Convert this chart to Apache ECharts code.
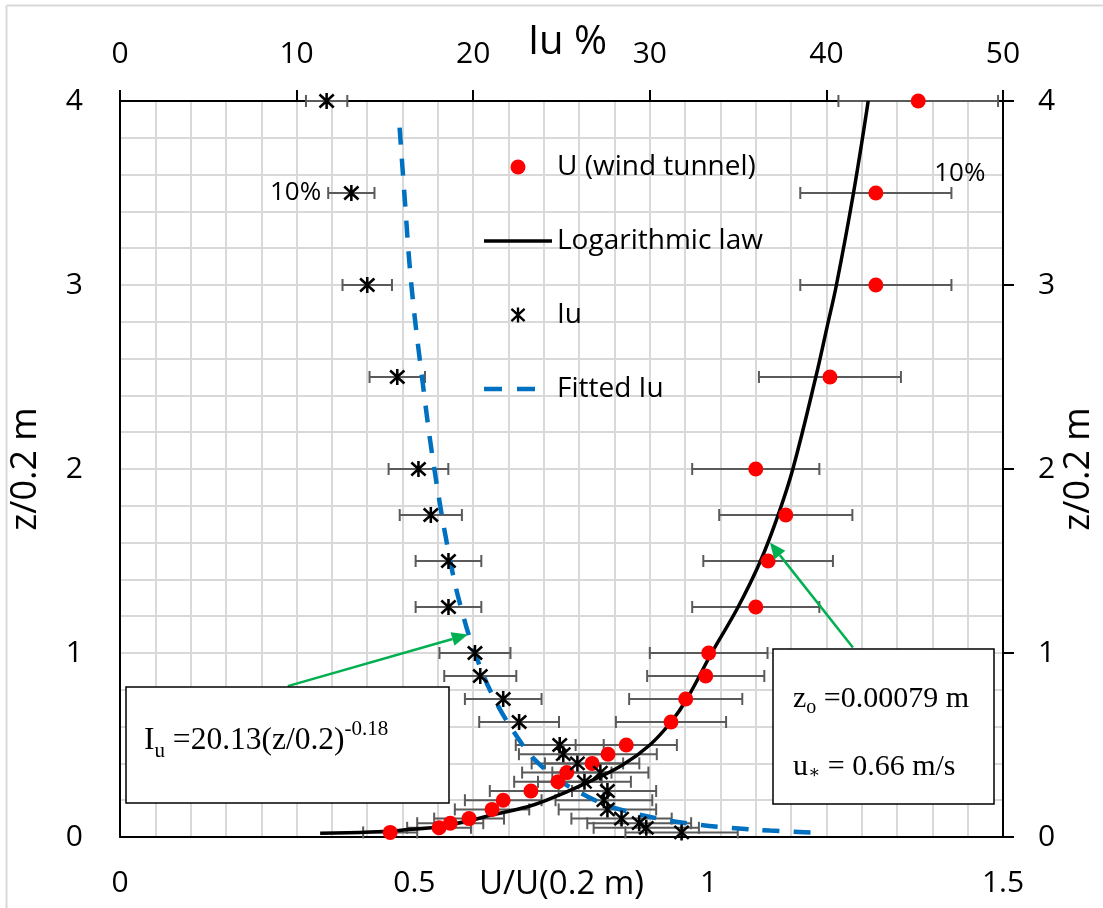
<!DOCTYPE html>
<html>
<head>
<meta charset="utf-8">
<title>Wind profile and turbulence intensity</title>
<script src="https://cdn.jsdelivr.net/npm/echarts@6/dist/echarts.min.js"></script>
<style>
  html, body { margin: 0; padding: 0; background: #fff; }
  #chart { width: 1103px; height: 908px; }
</style>
</head>
<body>
<div id="chart"></div>
<script>
// Measurement heights, z/0.2 m
const HEIGHTS = [0.025, 0.05, 0.075, 0.1, 0.15, 0.2, 0.25, 0.3, 0.35, 0.4, 0.45, 0.5,
                 0.625, 0.75, 0.875, 1, 1.25, 1.5, 1.75, 2, 2.5, 3, 3.5, 4];
// Mean wind speed ratio U/U(0.2 m) measured in the wind tunnel
const U_TUNNEL = [0.459, 0.542, 0.561, 0.593, 0.632, 0.651, 0.698, 0.744, 0.759, 0.802, 0.829, 0.860,
                  0.936, 0.961, 0.995, 1.000, 1.080, 1.101, 1.131, 1.080, 1.206, 1.284, 1.284, 1.356];
// Turbulence intensity Iu (%)
const IU = [31.8, 29.8, 29.4, 28.4, 27.6, 27.4, 27.6, 26.3, 27.2, 25.9, 25.1, 24.9,
            22.6, 21.7, 20.4, 20.1, 18.6, 18.6, 17.6, 16.9, 15.7, 14.0, 13.1, 11.7];
// Error bar size (percent of value)
const ERROR_PCT = 10;

// Logarithmic law profile
const LOG_Z = [0.02, 0.027, 0.038, 0.054, 0.09, 0.12, 0.163, 0.2, 0.29, 0.39, 0.5, 0.625,
               0.75, 1.0, 1.25, 1.5, 1.75, 2.0, 2.5, 2.77, 3.0, 3.5, 4.0];
const LOG_U = [0.340, 0.425, 0.481, 0.538, 0.595, 0.632, 0.691, 0.725, 0.790, 0.853, 0.900, 0.936,
               0.963, 1.005, 1.050, 1.088, 1.118, 1.143, 1.182, 1.201, 1.217, 1.246, 1.271];

// Fitted turbulence intensity profile
const FIT_Z = [0.025, 0.035, 0.05, 0.07, 0.1, 0.15, 0.2, 0.3, 0.4, 0.5, 0.75, 1, 1.25, 1.5, 2, 2.5, 3, 3.5, 3.9];
const FIT_IU = [39.1, 36.8, 34.5, 32.5, 30.5, 28.3, 26.9, 25.0, 23.7, 22.8, 21.2, 20.1, 19.3, 18.7, 17.8, 17.1, 16.5, 16.1, 15.8];

// Axis tick settings
const U_TICKS = { min: 0, max: 1.5, interval: 0.5 };
const IU_TICKS = { min: 0, max: 50, interval: 10 };
const Z_TICKS = { min: 0, max: 4, interval: 1 };

const SANS = '"Open Sans", "Noto Sans", sans-serif';
const SERIF = '"Liberation Serif", "DejaVu Serif", serif';
const GRID_COLOR = '#d9d9d9';
const ERR_COLOR = '#5a5a5a';
const ARROW_COLOR = '#00b050';

// asterisk marker built from three thin bars
const ASTERISK = 'path://M-1.25,-8L1.25,-8L1.25,8L-1.25,8Z' +
  'M-6.15,-7.41L7.85,5.59L6.15,7.41L-7.85,-5.59Z' +
  'M-7.85,5.59L6.15,-7.41L7.85,-5.59L-6.15,7.41Z';
// legend swatches for the two curves (zero-area corner points fix the 68x15 box)
const SOLID_ICON = 'path://M0,-7.5L0,-7.5M68,7.5L68,7.5M0,-1.8L68,-1.8L68,1.8L0,1.8Z';
const DASH_ICON = 'path://M0,-7.5L0,-7.5M68,7.5L68,7.5M0,-2.3L18,-2.3L18,2.3L0,2.3ZM33,-2.3L51,-2.3L51,2.3L33,2.3Z';

const uPoints = HEIGHTS.map((z, i) => [U_TUNNEL[i], z]);
const iuPoints = HEIGHTS.map((z, i) => [IU[i], z]);
const uErr = HEIGHTS.map((z, i) => [U_TUNNEL[i], z, U_TUNNEL[i] * ERROR_PCT / 100]);
const iuErr = HEIGHTS.map((z, i) => [IU[i], z, IU[i] * ERROR_PCT / 100]);
const logLine = LOG_Z.map((z, i) => [LOG_U[i], z]);
const fitLine = FIT_Z.map((z, i) => [FIT_IU[i], z]);

function renderErrorBar(params, api) {
  const v = api.value(0), z = api.value(1), e = api.value(2);
  const a = api.coord([v - e, z]);
  const b = api.coord([v + e, z]);
  const cap = 6;
  const style = { stroke: ERR_COLOR, lineWidth: 2 };
  return {
    type: 'group',
    children: [
      { type: 'line', shape: { x1: a[0], y1: a[1], x2: b[0], y2: b[1] }, style },
      { type: 'line', shape: { x1: a[0], y1: a[1] - cap, x2: a[0], y2: a[1] + cap }, style },
      { type: 'line', shape: { x1: b[0], y1: b[1] - cap, x2: b[0], y2: b[1] + cap }, style }
    ]
  };
}

const chart = echarts.init(document.getElementById('chart'), null, { renderer: 'canvas' });

const axisText = { fontFamily: SANS, fontSize: 30, color: '#000' };

const option = {
  backgroundColor: '#ffffff',
  animation: false,
  grid: { left: 120, right: 100, top: 101, bottom: 71, containLabel: false, outerBoundsMode: 'none' },
  legend: {
    orient: 'vertical',
    left: 479,
    top: 147,
    itemWidth: 68,
    itemHeight: 15,
    itemGap: 44,
    selectedMode: false,
    textStyle: { fontFamily: SANS, fontSize: 28, color: '#000', lineHeight: 30 },
    data: [
      { name: 'U (wind tunnel)', icon: 'circle' },
      { name: 'Logarithmic law', icon: SOLID_ICON },
      { name: 'Iu', icon: ASTERISK },
      { name: 'Fitted Iu', icon: DASH_ICON }
    ]
  },
  xAxis: [
    {
      type: 'value', position: 'bottom',
      min: U_TICKS.min, max: U_TICKS.max, interval: U_TICKS.interval,
      name: 'U/U(0.2 m)', nameLocation: 'middle', nameGap: 31, nameMoveOverlap: false,
      nameTextStyle: { fontFamily: SANS, fontSize: 33, color: '#000' },
      axisLine: { show: true, onZero: false, lineStyle: { color: '#000', width: 2 } },
      axisTick: { show: false },
      axisLabel: Object.assign({ margin: 31 }, axisText),
      splitLine: { show: false }
    },
    {
      type: 'value', position: 'top',
      min: IU_TICKS.min, max: IU_TICKS.max, interval: IU_TICKS.interval,
      name: 'Iu %', nameLocation: 'middle', nameGap: 38, nameMoveOverlap: false,
      nameTextStyle: { fontFamily: SANS, fontSize: 40, color: '#000', padding: [0, 0, 0, 12] },
      axisLine: { show: true, onZero: false, lineStyle: { color: '#000', width: 2 } },
      axisTick: { show: true, inside: false, length: 11, lineStyle: { color: '#000', width: 2 } },
      axisLabel: Object.assign({ margin: 32 }, axisText),
      splitLine: { show: true, lineStyle: { color: GRID_COLOR, width: 2 } },
      minorTick: { show: false, splitNumber: 5 },
      minorSplitLine: { show: true, lineStyle: { color: GRID_COLOR, width: 2 } }
    }
  ],
  yAxis: [
    {
      type: 'value', position: 'left',
      min: Z_TICKS.min, max: Z_TICKS.max, interval: Z_TICKS.interval,
      name: 'z/0.2 m', nameLocation: 'middle', nameGap: 76, nameRotate: 90, nameMoveOverlap: false,
      nameTextStyle: { fontFamily: SANS, fontSize: 36, color: '#000' },
      axisLine: { show: true, onZero: false, lineStyle: { color: '#000', width: 2 } },
      axisTick: { show: false },
      axisLabel: Object.assign({ margin: 37 }, axisText),
      splitLine: { show: true, lineStyle: { color: GRID_COLOR, width: 2 } },
      minorTick: { show: false, splitNumber: 5 },
      minorSplitLine: { show: true, lineStyle: { color: GRID_COLOR, width: 2 } }
    },
    {
      type: 'value', position: 'right',
      min: Z_TICKS.min, max: Z_TICKS.max, interval: Z_TICKS.interval,
      name: 'z/0.2 m', nameLocation: 'middle', nameGap: 58, nameRotate: 90, nameMoveOverlap: false,
      nameTextStyle: { fontFamily: SANS, fontSize: 36, color: '#000' },
      axisLine: { show: true, onZero: false, lineStyle: { color: '#000', width: 2 } },
      axisTick: { show: true, inside: false, length: 11, lineStyle: { color: '#000', width: 2 } },
      axisLabel: Object.assign({ margin: 35 }, axisText),
      splitLine: { show: false }
    }
  ],
  series: [
    {
      name: 'U error', type: 'custom', xAxisIndex: 0, yAxisIndex: 0,
      renderItem: renderErrorBar, data: uErr, z: 2, silent: true,
      encode: { x: 0, y: 1 }
    },
    {
      name: 'Iu error', type: 'custom', xAxisIndex: 1, yAxisIndex: 0,
      renderItem: renderErrorBar, data: iuErr, z: 2, silent: true,
      encode: { x: 0, y: 1 }
    },
    {
      name: 'Fitted Iu', type: 'line', xAxisIndex: 1, yAxisIndex: 0,
      data: fitLine, smooth: 0.4, symbol: 'none', showSymbol: false, z: 3,
      lineStyle: { color: '#0070c0', width: 4.5, type: [17, 14] },
      itemStyle: { color: '#0070c0' }
    },
    {
      name: 'Logarithmic law', type: 'line', xAxisIndex: 0, yAxisIndex: 0,
      data: logLine, smooth: 0.4, symbol: 'none', showSymbol: false, z: 3,
      lineStyle: { color: '#000', width: 3.5 },
      itemStyle: { color: '#000' }
    },
    {
      name: 'U (wind tunnel)', type: 'scatter', xAxisIndex: 0, yAxisIndex: 0,
      data: uPoints, symbol: 'circle', symbolSize: 15, z: 4,
      itemStyle: { color: '#ff0000', opacity: 1 }
    },
    {
      name: 'Iu', type: 'scatter', xAxisIndex: 1, yAxisIndex: 0,
      data: iuPoints, symbol: ASTERISK, symbolSize: [16, 16], z: 4,
      itemStyle: { color: '#000', opacity: 1 }
    }
  ]
};

chart.setOption(option);

// ---- annotations: arrows, formula boxes, error labels ----
const measure = (() => {
  const ctx = document.createElement('canvas').getContext('2d');
  return (text, size, family) => { ctx.font = size + 'px ' + family; return ctx.measureText(text).width; };
})();

// a row of text pieces placed left to right; each piece: [text, size, dy]
function textRun(x, yMid, pieces, family) {
  const out = [];
  let cx = x;
  pieces.forEach(([t, size, dy]) => {
    out.push({
      type: 'text', x: cx, y: yMid + dy, z: 101,
      style: { text: t, font: size + 'px ' + family, fill: '#000', align: 'left', verticalAlign: 'middle' }
    });
    cx += measure(t, size, family);
  });
  return out;
}

function arrow(from, to) {
  const ang = Math.atan2(to[1] - from[1], to[0] - from[0]);
  const len = 16, half = 7;
  const bx = to[0] - len * Math.cos(ang), by = to[1] - len * Math.sin(ang);
  const px = -Math.sin(ang) * half, py = Math.cos(ang) * half;
  return [
    { type: 'line', z: 100, shape: { x1: from[0], y1: from[1], x2: bx, y2: by },
      style: { stroke: ARROW_COLOR, lineWidth: 2.5 } },
    { type: 'polygon', z: 100, shape: { points: [to, [bx + px, by + py], [bx - px, by - py]] },
      style: { fill: ARROW_COLOR } }
  ];
}

const uSeries = { seriesIndex: 4 };
const iuSeries = { seriesIndex: 5 };
const idx35 = HEIGHTS.indexOf(3.5);
const iuMark = chart.convertToPixel(iuSeries, [IU[idx35] * (1 - ERROR_PCT / 100), 3.5]);
const uMark = chart.convertToPixel(uSeries, [U_TUNNEL[idx35], 3.5]);

const graphics = [
  // outer frame edges
  { type: 'line', shape: { x1: 6.5, y1: 5.5, x2: 1103, y2: 5.5 }, style: { stroke: GRID_COLOR, lineWidth: 2 } },
  { type: 'line', shape: { x1: 6.5, y1: 5.5, x2: 6.5, y2: 908 }, style: { stroke: GRID_COLOR, lineWidth: 2 } },
  // 10 % labels next to the error bars
  { type: 'text', x: iuMark[0] - 7, y: iuMark[1], z: 101,
    style: { text: ERROR_PCT + '%', font: '26px ' + SANS, fill: '#000', align: 'right', verticalAlign: 'middle' } },
  { type: 'text', x: uMark[0] + 84, y: uMark[1] - 19, z: 101,
    style: { text: ERROR_PCT + '%', font: '26px ' + SANS, fill: '#000', align: 'center', verticalAlign: 'middle' } },
  // arrows pointing to the fitted Iu curve and the log-law curve
  ...arrow(chart.convertToPixel(iuSeries, [9.5, 0.82]), chart.convertToPixel(iuSeries, [19.7, 1.1])),
  ...arrow(chart.convertToPixel(uSeries, [1.245, 1.03]), chart.convertToPixel(uSeries, [1.104, 1.6])),
  // formula box for the fitted intensity
  { type: 'rect', z: 100, shape: { x: 126, y: 687, width: 323, height: 116 },
    style: { fill: '#fff', stroke: '#000', lineWidth: 1.5 } },
  ...textRun(144, 741, [['I', 31.5, 0], ['u', 21, 10], [' =20.13(z/0.2)', 31.5, 0], ['-0.18', 21, -12]], SERIF),
  // log-law parameters box
  { type: 'rect', z: 100, shape: { x: 773, y: 649, width: 221, height: 155 },
    style: { fill: '#fff', stroke: '#000', lineWidth: 1.5 } },
  ...textRun(793, 699, [['z', 30, 0], ['o', 20, 9], [' =0.00079 m', 30, 0]], SERIF),
  ...textRun(793, 767, [['u', 30, 0], ['\u2217', 18, 6], [' = 0.66 m/s', 30, 0]], SERIF)
];

chart.setOption({ graphic: graphics });
</script>
</body>
</html>
